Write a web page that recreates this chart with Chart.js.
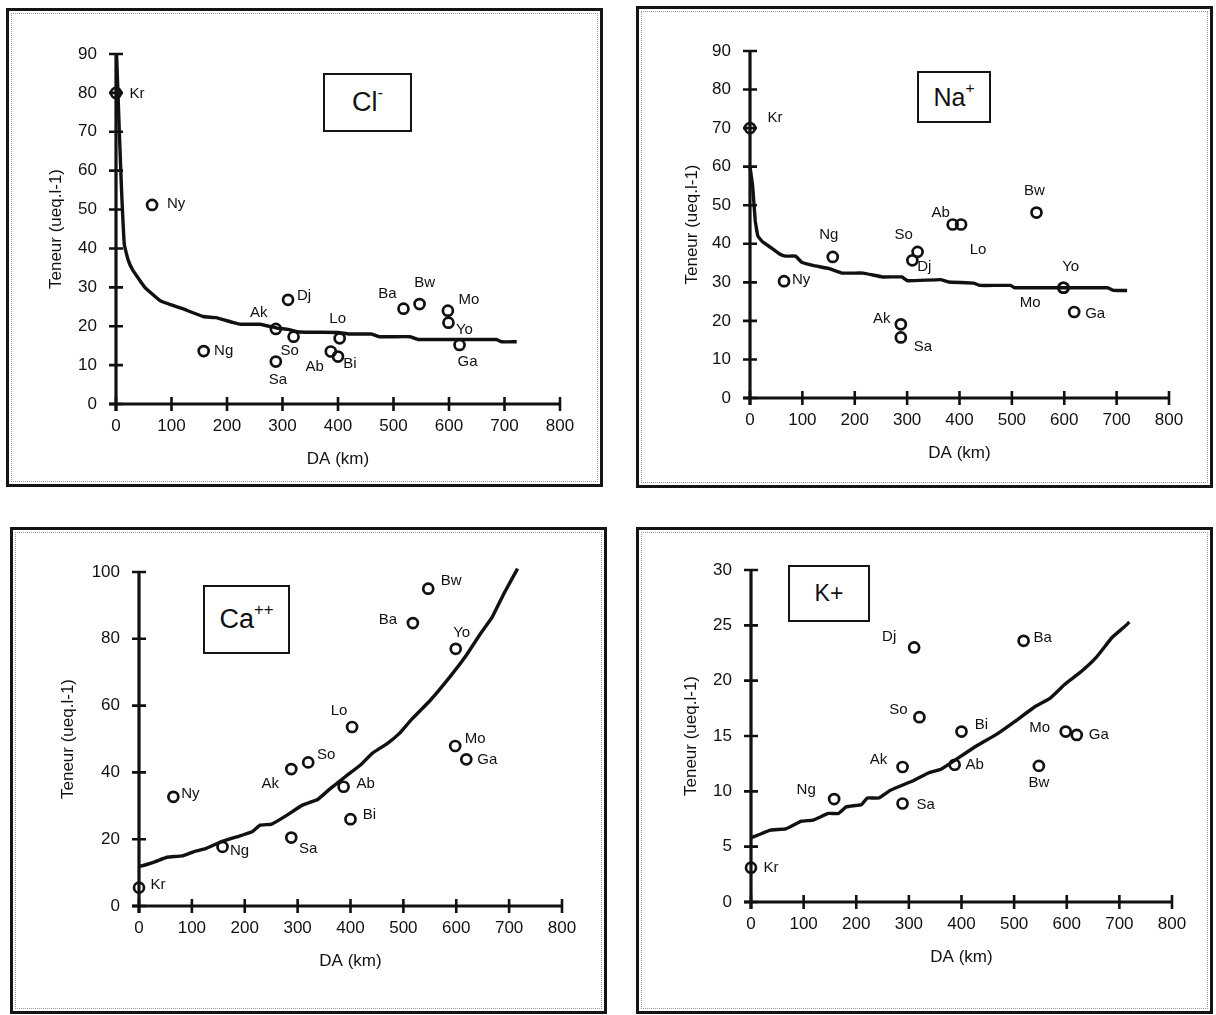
<!DOCTYPE html>
<html>
<head>
<meta charset="utf-8">
<script src="https://cdn.jsdelivr.net/npm/chart.js@4.4.1/dist/chart.umd.min.js"></script>
<style>
body{margin:0;background:#fff;width:1216px;height:1015px;position:relative;overflow:hidden;font-family:"Liberation Sans",Arial,sans-serif;}
.panel{position:absolute;box-sizing:border-box;border:3px solid #151515;}
.panel:after{content:"";position:absolute;left:2px;top:2px;right:2px;bottom:2px;border:1px dotted #999;pointer-events:none;}
.panel canvas{position:absolute;left:0;top:0;}
.tag{position:absolute;box-sizing:border-box;border:2.5px solid #151515;background:#fff;display:flex;align-items:center;justify-content:center;color:#111;z-index:2;}
.tag sup{font-size:0.62em;vertical-align:top;position:relative;top:-0.25em;}
</style>
</head>
<body>
<div class="panel" id="p-cl"><canvas id="c-cl"></canvas></div>
<div class="panel" id="p-na"><canvas id="c-na"></canvas></div>
<div class="panel" id="p-ca"><canvas id="c-ca"></canvas></div>
<div class="panel" id="p-k"><canvas id="c-k"></canvas></div>

<div class="tag" style="left:323px;top:73px;width:89px;height:59px;font-size:27px;"><span>Cl<sup>-</sup></span></div>
<div class="tag" style="left:917px;top:71px;width:74px;height:52px;font-size:25px;"><span>Na<sup>+</sup></span></div>
<div class="tag" style="left:203px;top:585px;width:87px;height:69px;font-size:27px;"><span>Ca<sup>++</sup></span></div>
<div class="tag" style="left:788px;top:565px;width:82px;height:57px;font-size:23px;"><span>K+</span></div>

<script>
// stations, distance (DA, km) and contents (ueq/l)
var stations = ['Kr','Ny','Ng','Ak','Sa','Dj','So','Ab','Bi','Lo','Ba','Bw','Mo','Yo','Ga'];
var daKm     = [0, 65, 158, 288, 288, 310, 320, 387, 400, 403, 518, 547, 598, 599, 619];
var chlorure = [80, 51.2, 13.6, 19.3, 10.9, 26.8, 17.3, 13.5, 12.2, 16.9, 24.5, 25.7, 24, 20.9, 15.2];
var sodium   = [70, 30.3, 36.6, 19.1, 15.7, 35.7, 37.9, 45, null, 45, null, 48.1, 28.6, 28.6, 22.3];
var calcium  = [5.5, 32.7, 17.7, 41, 20.5, null, 43, 35.7, 26, 53.6, 84.7, 95, 47.9, 77, 43.9];
var potassium= [3.1, null, 9.3, 12.2, 8.9, 23, 16.7, 12.4, 15.4, null, 23.6, 12.3, 15.4, null, 15.1];

// fitted curves
var clCurveDa  = [1, 6, 10, 15, 22, 30, 52, 80, 100, 120, 157, 180, 210, 225, 260, 290, 310, 330, 400, 420, 460, 475, 530, 545, 685, 695, 722];
var clCurveVal = [90, 70, 55, 41, 37, 34.5, 30, 26.5, 25.5, 24.5, 22.5, 22.2, 21, 20.5, 20.5, 19.5, 19.2, 18.5, 18.4, 18, 18, 17.3, 17.3, 16.6, 16.6, 16, 16];
var naCurveDa  = [0, 5, 10, 15, 24, 40, 55, 68, 87, 98, 120, 150, 176, 216, 253, 290, 301, 364, 379, 427, 439, 498, 505, 683, 694, 720];
var naCurveVal = [60, 55, 46, 42, 40.5, 39, 37.5, 36.8, 36.8, 35.3, 34.4, 33.6, 32.4, 32.4, 31.4, 31.4, 30.4, 30.7, 30.1, 29.8, 29.2, 29.2, 28.6, 28.6, 27.9, 27.9];
var caCurveDa  = [0, 5, 31, 53, 82, 104, 126, 155, 185, 214, 229, 251, 280, 309, 338, 360, 390, 419, 441, 470, 492, 514, 551, 588, 617, 646, 668, 690, 716];
var caCurveVal = [12, 12, 13.3, 14.6, 15, 16.3, 17.2, 19.2, 20.7, 22.2, 24.2, 24.5, 27.2, 30.2, 31.9, 34.9, 38.7, 42.2, 45.7, 48.7, 51.6, 55.6, 61.6, 68.6, 74.6, 81.6, 86.5, 93.5, 101];
var kCurveDa   = [0, 37, 66, 96, 118, 147, 166, 181, 210, 221, 243, 265, 310, 339, 361, 384, 428, 465, 501, 538, 568, 597, 627, 656, 686, 708, 719];
var kCurveVal  = [5.8, 6.5, 6.6, 7.3, 7.4, 8.0, 8.0, 8.6, 8.8, 9.4, 9.4, 10.1, 11.0, 11.7, 12.0, 12.7, 14.1, 15.1, 16.3, 17.6, 18.4, 19.7, 20.8, 22.1, 23.9, 24.8, 25.3];

// tick labels
var daTicks = [0, 100, 200, 300, 400, 500, 600, 700, 800];
var clTicks = [0, 10, 20, 30, 40, 50, 60, 70, 80, 90];
var naTicks = [0, 10, 20, 30, 40, 50, 60, 70, 80, 90];
var caTicks = [0, 20, 40, 60, 80, 100];
var kTicks  = [0, 5, 10, 15, 20, 25, 30];

var FONT = '"Liberation Sans", Arial, sans-serif';

// label placement next to each point (px)
var clOffsets = {Kr:[21,1],Ny:[24,-1],Ng:[20,0],Ak:[-17,-16],Dj:[16,-4],So:[-4,14],Sa:[2,18],Ab:[-16,15],Bi:[12,7],Lo:[-2,-19],Ba:[-16,-15],Bw:[5,-21],Mo:[21,-11],Yo:[16,7],Ga:[8,17]};
var naOffsets = {Kr:[25,-10],Ny:[17,-1],Ng:[-4,-22],So:[-14,-17],Dj:[12,7],Ab:[-12,-12],Lo:[17,25],Bw:[-2,-22],Yo:[7,-21],Mo:[-33,15],Ga:[21,2],Ak:[-19,-5],Sa:[22,9]};
var caOffsets = {Kr:[19,-3],Ny:[17,-3],Ng:[17,4],Sa:[17,11],Ak:[-21,15],So:[18,-8],Lo:[-13,-16],Ab:[22,-3],Bi:[19,-4],Ba:[-25,-3],Bw:[23,-8],Yo:[6,-16],Mo:[20,-7],Ga:[21,0]};
var kOffsets  = {Kr:[20,0],Ng:[-28,-9],Ak:[-24,-7],Sa:[23,1],So:[-21,-7],Dj:[-25,-11],Bi:[20,-7],Ab:[20,0],Ba:[19,-3],Mo:[-26,-4],Ga:[22,0],Bw:[0,17]};

var panels = [
  {id:'cl', box:[6,8,603,487],    axis:[116,560,54,404],  values:chlorure,  cDa:clCurveDa, cVal:clCurveVal, yTicks:clTicks, offsets:clOffsets, yTitle:60},
  {id:'na', box:[636,6,1213,488], axis:[750,1169,51,398], values:sodium,    cDa:naCurveDa, cVal:naCurveVal, yTicks:naTicks, offsets:naOffsets, yTitle:58},
  {id:'ca', box:[10,527,607,1014],axis:[139,562,572,906], values:calcium,   cDa:caCurveDa, cVal:caCurveVal, yTicks:caTicks, offsets:caOffsets, yTitle:71},
  {id:'k',  box:[636,527,1213,1014],axis:[751,1172,570,902],values:potassium,cDa:kCurveDa, cVal:kCurveVal, yTicks:kTicks, offsets:kOffsets, yTitle:60}
];

var axesPlugin = {
  id: 'axesCross',
  beforeDatasetsDraw: function(chart) {
    var ctx = chart.ctx, xs = chart.scales.x, ys = chart.scales.y;
    var x0 = xs.getPixelForValue(0), x1 = xs.getPixelForValue(xs.max);
    var yb = ys.getPixelForValue(0), yt = ys.getPixelForValue(ys.max);
    ctx.save();
    ctx.strokeStyle = '#111';
    ctx.lineWidth = 3.2;
    ctx.beginPath();
    ctx.moveTo(x0, yt); ctx.lineTo(x0, yb + 7);
    ctx.moveTo(x0 - 7, yb); ctx.lineTo(x1, yb);
    ctx.stroke();
    ctx.lineWidth = 2.6;
    ctx.beginPath();
    ys.ticks.forEach(function(t) {
      var y = ys.getPixelForValue(t.value);
      ctx.moveTo(x0 - 7, y); ctx.lineTo(x0 + 7, y);
    });
    xs.ticks.forEach(function(t) {
      var x = xs.getPixelForValue(t.value);
      ctx.moveTo(x, yb - 7); ctx.lineTo(x, yb + 7);
    });
    ctx.stroke();
    ctx.restore();
  },
  afterDraw: function(chart) {
    var ctx = chart.ctx, a = chart.chartArea;
    var off = chart.options.plugins.axesCross.yTitle;
    ctx.save();
    ctx.fillStyle = '#111';
    ctx.font = '17px ' + FONT;
    ctx.textAlign = 'center';
    ctx.textBaseline = 'middle';
    ctx.fillText('DA (km)', (a.left + a.right) / 2, a.bottom + 55);
    ctx.translate(a.left - off, (a.top + a.bottom) / 2);
    ctx.rotate(-Math.PI / 2);
    ctx.fillText('Teneur (ueq.l-1)', 0, 0);
    ctx.restore();
  }
};

var labelPlugin = {
  id: 'stationLabels',
  afterDatasetsDraw: function(chart) {
    var ctx = chart.ctx;
    var ds = chart.data.datasets[1];
    var offs = chart.options.plugins.stationLabels.offsets;
    var meta = chart.getDatasetMeta(1);
    ctx.save();
    ctx.fillStyle = '#111';
    ctx.font = '15px ' + FONT;
    ctx.textAlign = 'center';
    ctx.textBaseline = 'middle';
    meta.data.forEach(function(pt, i) {
      var name = ds.names[i];
      var o = offs[name] || [18, 0];
      ctx.fillText(name, pt.x + o[0], pt.y + o[1]);
    });
    ctx.restore();
  }
};

panels.forEach(function(p) {
  var box = p.box;
  var div = document.getElementById('p-' + p.id);
  div.style.left = box[0] + 'px';
  div.style.top = box[1] + 'px';
  div.style.width = (box[2] - box[0]) + 'px';
  div.style.height = (box[3] - box[1]) + 'px';
  var innerL = box[0] + 3, innerT = box[1] + 3;
  var innerW = box[2] - box[0] - 6, innerH = box[3] - box[1] - 6;
  var cv = document.getElementById('c-' + p.id);
  cv.style.width = innerW + 'px';
  cv.style.height = innerH + 'px';
  cv.width = innerW; cv.height = innerH;

  var yW = p.axis[0] - innerL;
  var padTop = p.axis[2] - innerT;
  var padRight = innerL + innerW - p.axis[1];
  var xH = innerT + innerH - p.axis[3];

  var pts = [], names = [];
  stations.forEach(function(s, i) {
    if (p.values[i] !== null) { pts.push({x: daKm[i], y: p.values[i]}); names.push(s); }
  });
  var curve = p.cDa.map(function(d, i) { return {x: d, y: p.cVal[i]}; });

  new Chart(cv, {
    type: 'scatter',
    data: {
      datasets: [
        {data: curve, showLine: true, borderColor: '#111', borderWidth: 3.4, pointRadius: 0, tension: 0.1, clip: false},
        {data: pts, names: names, pointStyle: 'circle', pointRadius: 5, borderWidth: 2.7, borderColor: '#111', backgroundColor: 'rgba(0,0,0,0)', clip: false}
      ]
    },
    options: {
      responsive: false,
      animation: false,
      layout: {padding: {left: 0, top: padTop, right: padRight, bottom: 0}, autoPadding: false},
      plugins: {
        legend: {display: false},
        tooltip: {enabled: false},
        axesCross: {yTitle: p.yTitle},
        stationLabels: {offsets: p.offsets}
      },
      scales: {
        x: {
          type: 'linear', min: daTicks[0], max: daTicks[daTicks.length - 1],
          grid: {display: false, drawTicks: false}, border: {display: false},
          afterBuildTicks: function(s) { s.ticks = daTicks.map(function(v) { return {value: v}; }); },
          afterFit: function(s) { s.height = xH; },
          ticks: {padding: 12, maxRotation: 0, autoSkip: false, color: '#111', font: {family: FONT, size: 17}}
        },
        y: {
          type: 'linear', min: 0, max: p.yTicks[p.yTicks.length - 1],
          grid: {display: false, drawTicks: false}, border: {display: false},
          afterBuildTicks: function(s) { s.ticks = p.yTicks.map(function(v) { return {value: v}; }); },
          afterFit: function(s) { s.width = yW; },
          ticks: {padding: 19, color: '#111', font: {family: FONT, size: 17}}
        }
      }
    },
    plugins: [axesPlugin, labelPlugin]
  });
});
</script>
</body>
</html>
